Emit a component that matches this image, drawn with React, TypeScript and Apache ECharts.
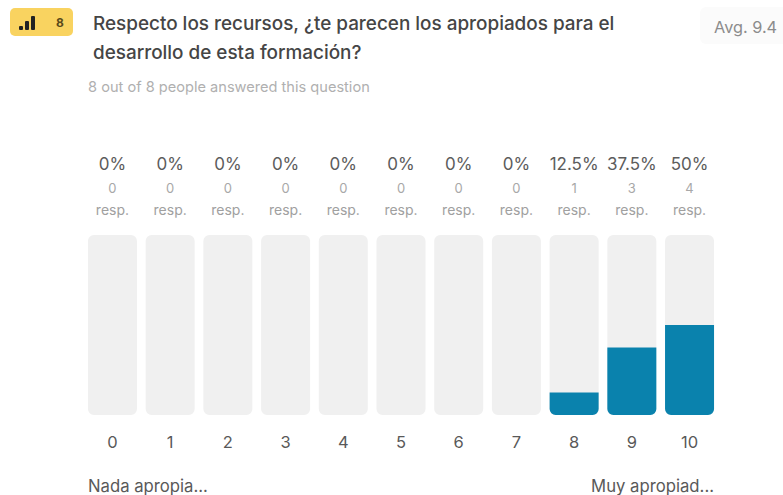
import React, { useEffect, useRef } from "react";
import * as echarts from "echarts";

const categories = ["0", "1", "2", "3", "4", "5", "6", "7", "8", "9", "10"];
const percentValues = [0, 0, 0, 0, 0, 0, 0, 0, 12.5, 37.5, 50];
const respCounts = [0, 0, 0, 0, 0, 0, 0, 0, 1, 3, 4];
const trackValues = [100, 100, 100, 100, 100, 100, 100, 100, 100, 100, 100];
const titleLines = [
  "Respecto los recursos, ¿te parecen los apropiados para el",
  "desarrollo de esta formación?",
];
const subtitle = "8 out of 8 people answered this question";
const avgLabel = "Avg. 9.4";
const badgeCount = "8";
const leftLabel = "Nada apropia...";
const rightLabel = "Muy apropiad...";

const FONT = "Inter, 'Noto Sans', sans-serif";

export default function App() {
  const ref = useRef<HTMLDivElement>(null);
  useEffect(() => {
    const chart = echarts.init(ref.current!, undefined, { renderer: "svg" });
    chart.setOption({
      animation: false,
      backgroundColor: "#ffffff",
      grid: { left: 83.6, right: 64.6, top: 235, bottom: 80 },
      xAxis: {
        type: "category",
        data: categories,
        axisLine: { show: false },
        axisTick: { show: false },
        axisLabel: {
          color: "#595959",
          fontFamily: FONT,
          fontSize: 16.5,
          margin: 18,
          interval: 0,
        },
      },
      yAxis: { type: "value", min: 0, max: 100, show: false },
      series: [
        {
          type: "bar",
          data: trackValues,
          barWidth: 49,
          barGap: "-100%",
          silent: true,
          itemStyle: { color: "#f0f0f0", borderRadius: 6 },
          label: {
            show: true,
            position: "top",
            distance: 16,
            fontFamily: FONT,
            formatter: (p: any) =>
              `{pct|${percentValues[p.dataIndex]}%}\n{count|${respCounts[p.dataIndex]}}\n{resp|resp.}`,
            rich: {
              pct: { fontFamily: FONT, fontSize: 17, color: "#5c5c5c", lineHeight: 26, align: "center" },
              count: { fontFamily: FONT, fontSize: 13, color: "#a8a8a8", lineHeight: 22, align: "center" },
              resp: { fontFamily: FONT, fontSize: 14, color: "#a0a0a0", lineHeight: 20, align: "center" },
            },
          },
        },
        {
          type: "bar",
          data: percentValues,
          barWidth: 49,
          silent: true,
          itemStyle: { color: "#0a82ad", borderRadius: [0, 0, 6, 6] },
        },
      ],
      graphic: [
        { type: "rect", shape: { x: 10, y: 8, width: 63, height: 28, r: 5 }, style: { fill: "#f9d360" } },
        { type: "rect", shape: { x: 19, y: 26, width: 4, height: 4, r: 1 }, style: { fill: "#222222" } },
        { type: "rect", shape: { x: 25, y: 21, width: 4, height: 9, r: 1 }, style: { fill: "#222222" } },
        { type: "rect", shape: { x: 31, y: 16, width: 4, height: 14, r: 1 }, style: { fill: "#222222" } },
        {
          type: "text",
          style: { x: 60, y: 22, text: badgeCount, fontFamily: FONT, fontSize: 12, fontWeight: 700, fill: "#5a4a1a", textAlign: "center", textVerticalAlign: "middle" },
        },
        {
          type: "text",
          style: { x: 93, y: 23, text: titleLines[0], fontFamily: FONT, fontSize: 18.9, fontWeight: 500, fill: "#454545", textVerticalAlign: "middle" },
        },
        {
          type: "text",
          style: { x: 93, y: 52, text: titleLines[1], fontFamily: FONT, fontSize: 18.9, fontWeight: 500, fill: "#454545", textVerticalAlign: "middle" },
        },
        {
          type: "text",
          style: { x: 88, y: 87, text: subtitle, fontFamily: FONT, fontSize: 14.6, fill: "#b0b0b0", textVerticalAlign: "middle" },
        },
        { type: "rect", shape: { x: 700, y: 7, width: 90, height: 37, r: 6 }, style: { fill: "#fbfbfb" } },
        {
          type: "text",
          style: { x: 714, y: 27, text: avgLabel, fontFamily: FONT, fontSize: 16.3, fill: "#8c8c8c", textVerticalAlign: "middle" },
        },
        {
          type: "text",
          style: { x: 88, y: 486, text: leftLabel, fontFamily: FONT, fontSize: 16.7, fill: "#595959", textVerticalAlign: "middle" },
        },
        {
          type: "text",
          style: { x: 714, y: 486, text: rightLabel, fontFamily: FONT, fontSize: 16.7, fill: "#595959", textAlign: "right", textVerticalAlign: "middle" },
        },
      ],
    });
    return () => chart.dispose();
  }, []);
  return <div ref={ref} style={{ position: "absolute", left: 0, top: 0, width: 783, height: 495 }} />;
}
